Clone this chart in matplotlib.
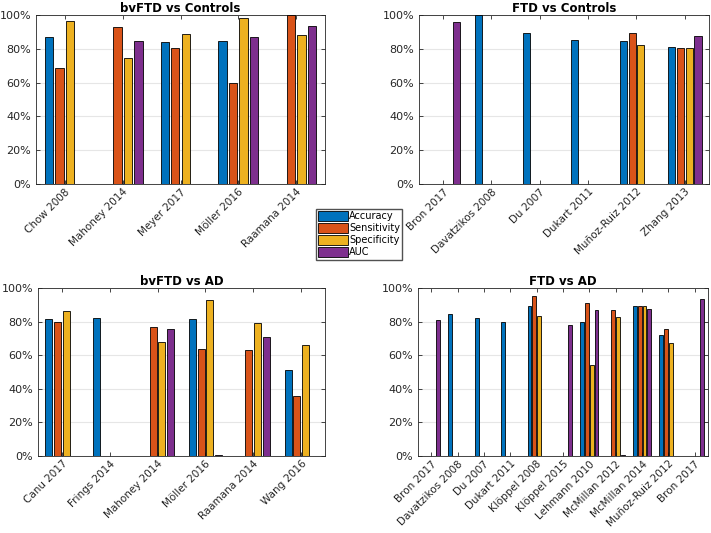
import numpy as np
import matplotlib
matplotlib.use("Agg")
import matplotlib.pyplot as plt
from matplotlib.ticker import PercentFormatter

nan = np.nan

# %% Data (values in %)
metrics = ["Accuracy", "Sensitivity", "Specificity", "AUC"]
colors = ["#0072BD", "#D95319", "#EDB120", "#7E2F8E"]

bv_ctrl_labels = ["Chow 2008", "Mahoney 2014", "Meyer 2017", "Möller 2016", "Raamana 2014"]
bv_ctrl_acc = [86.7, nan, 84.3, 84.7, nan]
bv_ctrl_sens = [68.6, 93.0, 80.5, 59.8, 100.0]
bv_ctrl_spec = [96.4, 74.8, 88.7, 98.0, 87.9]
bv_ctrl_auc = [nan, 84.7, nan, 86.7, 93.4]

ftd_ctrl_labels = ["Bron 2017", "Davatzikos 2008", "Du 2007", "Dukart 2011",
                   "Muñoz-Ruiz 2012", "Zhang 2013"]
ftd_ctrl_acc = [nan, 100.0, 89.1, 85.3, 84.9, 81.0]
ftd_ctrl_sens = [nan, nan, nan, nan, 89.1, 80.6]
ftd_ctrl_spec = [nan, nan, nan, nan, 82.0, 80.2]
ftd_ctrl_auc = [96.0, nan, nan, nan, nan, 87.7]

bv_ad_labels = ["Canu 2017", "Frings 2014", "Mahoney 2014", "Möller 2016",
                "Raamana 2014", "Wang 2016"]
bv_ad_acc = [81.8, 82.4, nan, 81.8, nan, 51.1]
bv_ad_sens = [79.6, nan, 76.6, 63.4, 62.8, 36.0]
bv_ad_spec = [86.5, nan, 67.7, 93.1, 79.0, 66.3]
bv_ad_auc = [nan, nan, 75.4, 0.4, 71.1, nan]

ftd_ad_labels = ["Bron 2017", "Davatzikos 2008", "Du 2007", "Dukart 2011",
                 "Klöppel 2008", "Klöppel 2015", "Lehmann 2010", "McMillan 2012",
                 "McMillan 2014", "Muñoz-Ruiz 2012", "Bron 2017"]
ftd_ad_acc = [nan, 84.5, 82.0, 80.0, 89.0, nan, 79.7, nan, 89.0, 72.0, nan]
ftd_ad_sens = [nan, nan, nan, nan, 95.0, nan, 91.3, 87.0, 89.0, 75.7, nan]
ftd_ad_spec = [nan, nan, nan, nan, 83.3, nan, 54.0, 83.0, 89.0, 67.0, nan]
ftd_ad_auc = [81.0, nan, nan, nan, nan, 78.0, 87.0, 0.6, 87.5, nan, 93.4]


def grouped_bars(ax, title, labels, series):
    n = len(labels)
    x = np.arange(1, n + 1)
    gw = min(0.8, 4 / (4 + 1.5))
    w = gw / 4
    for i, (vals, c) in enumerate(zip(series, colors)):
        ax.bar(x + (i - 1.5) * w, vals, width=w * 0.8, color=c,
               edgecolor="black", linewidth=0.6, label=metrics[i], zorder=3)
    ax.set_xlim(0.5, n + 0.5)
    ax.set_ylim(0, 100)
    ax.set_xticks(x)
    ax.set_xticklabels(labels, rotation=45, ha="right", rotation_mode="anchor",
                       fontsize=7.5)
    ax.set_yticks(np.arange(0, 101, 20))
    ax.yaxis.set_major_formatter(PercentFormatter(decimals=0))
    ax.set_title(title, fontsize=8.5, fontweight="bold", pad=2)
    ax.grid(True, axis="y", color="#e6e6e6", linewidth=0.8, zorder=0)
    ax.tick_params(direction="in", top=True, right=True, length=3,
                   labelsize=8, colors="#262626", width=0.6)
    ax.tick_params(axis="x", labelsize=7.5, pad=2)
    for s in ax.spines.values():
        s.set_color("#262626")
        s.set_linewidth(0.6)


fig = plt.figure(figsize=(7.11, 5.33), dpi=100)
W, H = 711, 533
ax1 = fig.add_axes([36 / W, 1 - 184 / H, 289 / W, 169 / H])
ax2 = fig.add_axes([419 / W, 1 - 184 / H, 290 / W, 169 / H])
ax3 = fig.add_axes([38 / W, 1 - 456 / H, 287 / W, 168 / H])
ax4 = fig.add_axes([418 / W, 1 - 456 / H, 290 / W, 168 / H])

grouped_bars(ax1, "bvFTD vs Controls", bv_ctrl_labels,
             [bv_ctrl_acc, bv_ctrl_sens, bv_ctrl_spec, bv_ctrl_auc])
grouped_bars(ax2, "FTD vs Controls", ftd_ctrl_labels,
             [ftd_ctrl_acc, ftd_ctrl_sens, ftd_ctrl_spec, ftd_ctrl_auc])
grouped_bars(ax3, "bvFTD vs AD", bv_ad_labels,
             [bv_ad_acc, bv_ad_sens, bv_ad_spec, bv_ad_auc])
grouped_bars(ax4, "FTD vs AD", ftd_ad_labels,
             [ftd_ad_acc, ftd_ad_sens, ftd_ad_spec, ftd_ad_auc])

handles, lbls = ax1.get_legend_handles_labels()
fig.legend(handles, lbls, loc="upper left", bbox_to_anchor=(316 / W, 1 - 209 / H),
           fontsize=7, frameon=True, fancybox=False, edgecolor="#262626",
           handlelength=3.0, handleheight=1.1, handletextpad=0.15,
           labelspacing=0.2, borderpad=0.25, borderaxespad=0)

plt.savefig("out.png", dpi=100)
